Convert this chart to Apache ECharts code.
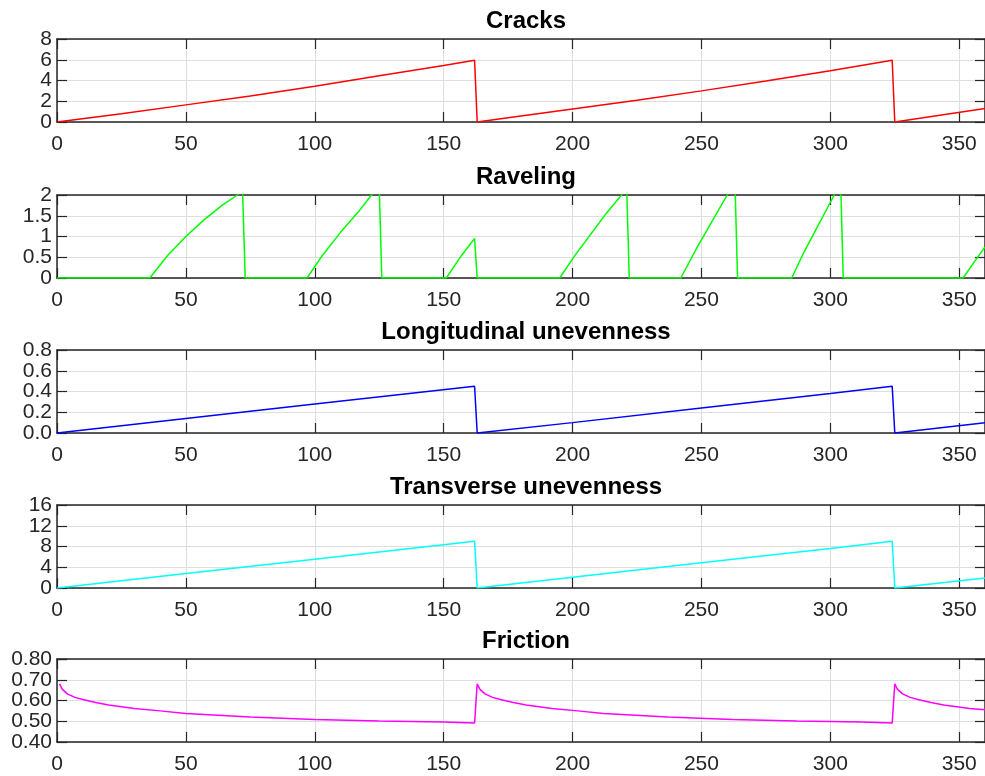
<!DOCTYPE html>
<html>
<head>
<meta charset="utf-8">
<script src="https://cdn.jsdelivr.net/npm/echarts@6/dist/echarts.min.js"></script>
<style>
  html, body { margin: 0; padding: 0; background: #ffffff; }
  #chart { width: 985px; height: 776px; }
</style>
</head>
<body>
<div id="chart"></div>
<script>
// panel titles
const titles = ['Cracks', 'Raveling', 'Longitudinal unevenness', 'Transverse unevenness', 'Friction']

// cracks
const cracksX = [0, 25, 50, 75, 100, 125, 150, 162, 163, 175, 200, 225, 250, 275, 300, 324, 325, 360]
const cracksY = [0, 0.8, 1.65, 2.5, 3.45, 4.45, 5.45, 5.95, 0, 0.4, 1.25, 2.1, 3.0, 3.95, 4.95, 5.95, 0, 1.3]

// raveling (values above 2 are cut by the axis)
const ravelX = [0, 36, 43, 50, 57, 64, 70, 72, 73, 97, 103, 110, 117, 122, 125, 126, 151, 157, 162, 163,
  195, 201, 207, 213, 219, 221, 222, 242, 248, 254, 260, 263, 264, 285, 290, 296, 301.5, 304, 305, 351.5, 356, 360]
const ravelY = [0, 0, 0.55, 1.0, 1.4, 1.75, 2.0, 2.1, 0, 0, 0.55, 1.1, 1.6, 2.0, 2.2, 0, 0, 0.55, 0.95, 0,
  0, 0.55, 1.05, 1.55, 2.0, 2.15, 0, 0, 0.7, 1.35, 2.0, 2.3, 0, 0, 0.65, 1.35, 2.0, 2.3, 0, 0, 0.4, 0.75]

// longitudinal / transverse unevenness
const unevenX = [0, 50, 100, 162, 163, 200, 250, 300, 324, 325, 360]
const longY = [0, 0.14, 0.28, 0.45, 0, 0.1, 0.24, 0.38, 0.45, 0, 0.1]
const transY = [0, 2.8, 5.55, 9, 0, 2.05, 4.85, 7.6, 9, 0, 1.95]

// friction
const fricX = [1, 2, 4, 7, 10, 15, 20, 30, 40, 50, 75, 100, 125, 150, 162,
  163, 164, 166, 169, 172, 177, 182, 192, 202, 212, 237, 262, 287, 312, 324,
  325, 326, 328, 331, 334, 339, 344, 354, 360]
const fricY = [0.68, 0.655, 0.632, 0.615, 0.605, 0.59, 0.578, 0.562, 0.55, 0.537, 0.521, 0.508, 0.501, 0.496, 0.492,
  0.68, 0.655, 0.632, 0.615, 0.605, 0.59, 0.578, 0.562, 0.55, 0.537, 0.521, 0.508, 0.501, 0.496, 0.492,
  0.68, 0.655, 0.632, 0.615, 0.605, 0.59, 0.578, 0.562, 0.555]

// y tick labels
const cracksTicks = ['0', '2', '4', '6', '8']
const ravelTicks = ['0', '0.5', '1', '1.5', '2']
const longTicks = ['0.0', '0.2', '0.4', '0.6', '0.8']
const transTicks = ['0', '4', '8', '12', '16']
const fricTicks = ['0.40', '0.50', '0.60', '0.70', '0.80']

const xMin = 0, xMax = 360, xStep = 50

const lineColors = ['#ff0000', '#00ff00', '#0000ff', '#00ffff', '#ff00ff']
const seriesX = [cracksX, ravelX, unevenX, unevenX, fricX]
const seriesY = [cracksY, ravelY, longY, transY, fricY]
const yTicks = [cracksTicks, ravelTicks, longTicks, transTicks, fricTicks]

// layout of the panels
const gridTops = [39, 195, 350, 505, 659]
const gridHeight = 83

const axisColor = '#262626'
const gridColor = '#dedede'
const font = 'Liberation Sans, Arial, Helvetica, sans-serif'

let chart = echarts.init(document.getElementById('chart'))

function pairs(xs, ys) {
  return xs.map((x, i) => [x, ys[i]])
}

function boxAxis(extra) {
  return Object.assign({
    axisLine: {show: true, onZero: false, lineStyle: {color: axisColor, width: 1.5}},
    axisTick: {show: true, inside: true, length: 10, lineStyle: {color: axisColor, width: 1.2}},
    axisLabel: {show: false},
    splitLine: {show: false}
  }, extra)
}

let grid = [], xAxis = [], yAxis = [], series = [], title = []
for (let i = 0; i < 5; i++) {
  const ticks = yTicks[i].map(Number)
  const yMin = ticks[0], yMax = ticks[ticks.length - 1], yStep = ticks[1] - ticks[0]
  grid.push({left: 57, right: 0, top: gridTops[i], height: gridHeight, containLabel: false})
  title.push({
    text: titles[i], left: 521, top: gridTops[i] - 35, textAlign: 'center',
    textStyle: {fontFamily: font, fontSize: 24, fontWeight: 'bold', color: '#000000'}
  })
  // bottom x axis with labels
  xAxis.push(boxAxis({
    type: 'value', gridIndex: i, min: xMin, max: xMax, interval: xStep, position: 'bottom',
    axisLabel: {
      show: true, color: axisColor, fontFamily: font, fontSize: 21, margin: 12,
      showMinLabel: true, showMaxLabel: false, hideOverlap: false
    },
    splitLine: {show: true, lineStyle: {color: gridColor, width: 1}}
  }))
  // top x axis, box only
  xAxis.push(boxAxis({
    type: 'value', gridIndex: i, min: xMin, max: xMax, interval: xStep, position: 'top'
  }))
  // left y axis, its labels are added below so none get dropped
  yAxis.push(boxAxis({
    type: 'value', gridIndex: i, min: yMin, max: yMax, interval: yStep, position: 'left',
    splitLine: {show: true, lineStyle: {color: gridColor, width: 1}}
  }))
  yAxis.push(boxAxis({
    type: 'value', gridIndex: i, min: yMin, max: yMax, interval: yStep, position: 'right'
  }))
  series.push({
    type: 'line', xAxisIndex: i * 2, yAxisIndex: i * 2,
    data: pairs(seriesX[i], seriesY[i]),
    showSymbol: false, symbol: 'none', clip: true, animation: false,
    lineStyle: {color: lineColors[i], width: 1.5}
  })
}

const option = {
  backgroundColor: '#ffffff',
  animation: false,
  title: title,
  grid: grid,
  xAxis: xAxis,
  yAxis: yAxis,
  series: series
}

chart.setOption(option)

// y tick labels placed with the axis scale
let labels = []
for (let i = 0; i < 5; i++) {
  yTicks[i].forEach(t => {
    const py = chart.convertToPixel({yAxisIndex: i * 2}, Number(t))
    labels.push({
      type: 'text', x: 52, y: py, silent: true,
      style: {text: t, align: 'right', verticalAlign: 'middle', fill: axisColor,
        font: '21px "Liberation Sans", Arial, sans-serif'}
    })
  })
}
chart.setOption({graphic: labels})
</script>
</body>
</html>
